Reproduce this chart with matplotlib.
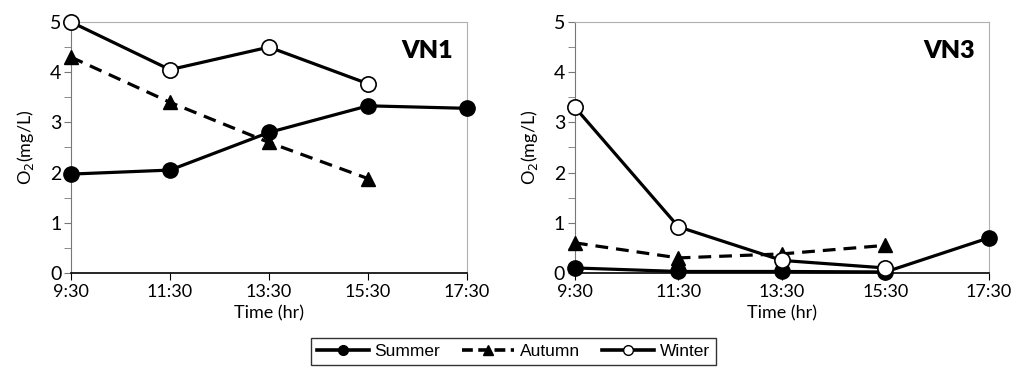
import matplotlib.pyplot as plt
from matplotlib.ticker import MultipleLocator
from matplotlib.lines import Line2D

times = ['9:30', '11:30', '13:30', '15:30', '17:30']

# VN1
vn1_summer = [1.97, 2.05, 2.8, 3.33, 3.28]
vn1_autumn = [4.3, 3.4, 2.6, 1.88]
vn1_winter = [5.0, 4.05, 4.5, 3.77]

# VN3
vn3_summer = [0.1, 0.03, 0.03, 0.02, 0.7]
vn3_autumn = [0.6, 0.3, 0.38, 0.55]
vn3_winter = [3.3, 0.92, 0.25, 0.1]

tick_font = 'Lato'

fig = plt.figure(figsize=(10.14, 3.76), dpi=100)
ax1 = fig.add_axes([0.070, 0.274, 0.3906, 0.6675])
ax2 = fig.add_axes([0.567, 0.274, 0.4083, 0.6675])


def draw(ax, summer, autumn, winter, name):
    x = list(range(len(times)))
    ax.plot(x[:len(summer)], summer, color='black', lw=2.3, marker='o', ms=11,
            mfc='black', mec='black', zorder=3, clip_on=False)
    ax.plot(x[:len(autumn)], autumn, color='black', lw=2.3, ls=(0, (4, 2.5)),
            marker='^', ms=10, mfc='black', mec='black', zorder=3, clip_on=False)
    ax.plot(x[:len(winter)], winter, color='black', lw=2.3, marker='o', ms=11,
            mfc='white', mec='black', mew=1.2, zorder=4, clip_on=False)
    ax.set_xlim(0, 4)
    ax.set_ylim(0, 5)
    ax.set_xticks(x)
    ax.set_xticklabels(times, fontfamily=tick_font, fontsize=13)
    ax.yaxis.set_major_locator(MultipleLocator(1))
    ax.yaxis.set_minor_locator(MultipleLocator(0.5))
    for lab in ax.get_yticklabels():
        lab.set_fontfamily(tick_font)
        lab.set_fontsize(14)
    ax.tick_params(axis='y', which='both', direction='out', length=5,
                   color='#777777', pad=2)
    ax.tick_params(axis='x', direction='out', length=5, color='black', pad=3)
    ax.spines['top'].set_color('#b0b0b0')
    ax.spines['right'].set_color('#b0b0b0')
    ax.spines['left'].set_color('#777777')
    ax.spines['bottom'].set_color('black')
    ax.spines['bottom'].set_linewidth(1.2)
    ax.set_xlabel('Time (hr)', fontfamily=tick_font, fontsize=13, labelpad=4)
    ax.set_ylabel('O$_2$(mg/L)', fontfamily=tick_font, fontsize=13, labelpad=10)
    ax.text(0.965, 0.885, name, transform=ax.transAxes, ha='right', va='center',
            fontfamily=tick_font, fontweight='heavy', fontsize=18)


draw(ax1, vn1_summer, vn1_autumn, vn1_winter, 'VN1')
draw(ax2, vn3_summer, vn3_autumn, vn3_winter, 'VN3')

handles = [
    Line2D([], [], color='black', lw=2.6, marker='o', ms=7, mfc='black'),
    Line2D([], [], color='black', lw=2.6, ls=(0, (3, 1.5)), marker='^', ms=7, mfc='black'),
    Line2D([], [], color='black', lw=2.6, marker='o', ms=7, mfc='white', mec='black'),
]
leg = fig.legend(handles, ['Summer', 'Autumn', 'Winter'], loc='lower center',
                 bbox_to_anchor=(0.506, 0.005), ncol=3, frameon=True, fancybox=False,
                 edgecolor='black', handlelength=3.0, handletextpad=0.3,
                 columnspacing=1.3, borderpad=0.35,
                 prop={'family': 'Liberation Sans', 'size': 12.5})
leg.get_frame().set_linewidth(1.0)

fig.savefig('out.png', dpi=100)
